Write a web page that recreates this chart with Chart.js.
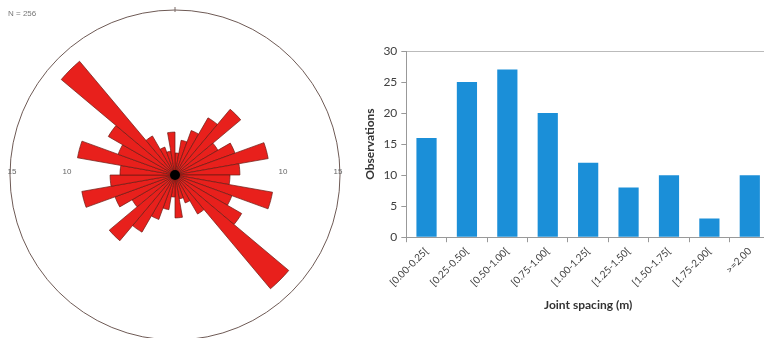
<!DOCTYPE html>
<html lang="en">
  <head>
    <meta charset="UTF-8" />
    <title>Joint orientation and spacing</title>
    <script src="https://cdn.jsdelivr.net/npm/chart.js"></script>
    <style>
      body { margin: 0; width: 764px; height: 338px; overflow: hidden; background: #fff; position: relative; }
      #roseBox { position: absolute; left: 0; top: 0; width: 350px; height: 350px; }
      #barBox { position: absolute; left: 360px; top: 0; width: 420px; height: 338px; }
      #nCount { position: absolute; left: 8px; top: 9px; font: 8px "Liberation Sans", sans-serif; color: #777; }
    </style>
  </head>
  <body>
    <div id="roseBox"><canvas id="rose"></canvas></div>
    <div id="nCount">N = 256</div>
    <div id="barBox"><canvas id="bars"></canvas></div>
    <script>
      // rose diagram: 10 degree bins from 0 to 180, the other half is the same (bidirectional)
      var roseBins = ["0-10", "10-20", "20-30", "30-40", "40-50", "50-60", "60-70", "70-80", "80-90",
        "90-100", "100-110", "110-120", "120-130", "130-140", "140-150", "150-160", "160-170", "170-180"];
      var rosePercent = [2, 3.2, 4.3, 6, 7.8, 4.5, 5.8, 8.6, 5.9, 5.0, 9, 5.5, 7, 13.5, 4.1, 2.7, 2.2, 3.9];
      var roseRings = [5, 10, 15];

      // joint spacing histogram
      var spacingBins = ["[0.00-0.25[", "[0.25-0.50[", "[0.50-1.00[", "[0.75-1.00[", "[1.00-1.25[",
        "[1.25-1.50[", "[1.50-1.75[", "[1.75-2.00[", ">=2.00"];
      var observations = [16, 25, 27, 20, 12, 8, 10, 3, 10];

      Chart.defaults.animation = false;

      var roseLabels = roseBins.concat(roseBins.map(function (b) {
        var p = b.split("-");
        return (+p[0] + 180) + "-" + (+p[1] + 180);
      }));
      var roseData = rosePercent.concat(rosePercent);

      var roseExtras = {
        id: "roseExtras",
        beforeDatasetsDraw: function (chart) {
          var r = chart.scales.r;
          var ctx = chart.ctx;
          ctx.save();
          ctx.fillStyle = "#666";
          ctx.font = "8px 'Liberation Sans', sans-serif";
          ctx.textAlign = "center";
          ctx.textBaseline = "middle";
          roseRings.forEach(function (v) {
            var d = r.getDistanceFromCenterForValue(v);
            ctx.fillText(v, r.xCenter - d + 2, r.yCenter - 3);
            ctx.fillText(v, r.xCenter + d - 2, r.yCenter - 3);
          });
          // north mark
          var top = r.getDistanceFromCenterForValue(15);
          ctx.strokeStyle = "#7a6a66";
          ctx.lineWidth = 1;
          ctx.beginPath();
          ctx.moveTo(r.xCenter, r.yCenter - top - 3);
          ctx.lineTo(r.xCenter, r.yCenter - top + 2);
          ctx.stroke();
          ctx.restore();
        },
        afterDatasetsDraw: function (chart) {
          var r = chart.scales.r;
          var ctx = chart.ctx;
          ctx.save();
          ctx.fillStyle = "#000";
          ctx.beginPath();
          ctx.arc(r.xCenter, r.yCenter, 5, 0, Math.PI * 2);
          ctx.fill();
          ctx.restore();
        }
      };

      new Chart(document.getElementById("rose"), {
        type: "polarArea",
        data: {
          labels: roseLabels,
          datasets: [
            {
              data: roseData,
              backgroundColor: "#e8201c",
              borderColor: "#6b1a12",
              borderWidth: 0.7,
            },
          ],
        },
        options: {
          responsive: true,
          maintainAspectRatio: false,
          layout: { padding: 10 },
          plugins: { legend: { display: false }, tooltip: { enabled: false } },
          scales: {
            r: {
              min: 0,
              max: 15,
              startAngle: 0,
              ticks: { display: false, stepSize: 15 },
              grid: { color: "#6e5a55", lineWidth: 1 },
              angleLines: { display: false },
            },
          },
        },
        plugins: [roseExtras],
      });

      new Chart(document.getElementById("bars"), {
        type: "bar",
        data: {
          labels: spacingBins,
          datasets: [
            {
              label: "Observations",
              data: observations,
              backgroundColor: "#1b8fd8",
              barPercentage: 0.5,
              categoryPercentage: 1,
            },
          ],
        },
        options: {
          responsive: true,
          maintainAspectRatio: false,
          layout: { padding: { left: 1, top: 51, right: 10, bottom: 22 } },
          plugins: { legend: { display: false }, tooltip: { enabled: false } },
          scales: {
            x: {
              grid: { display: true, drawOnChartArea: false, tickLength: 5, color: "#999" },
              border: { color: "#999" },
              ticks: { minRotation: 45, maxRotation: 45, color: "#404040", font: { family: "Lato", size: 10 } },
              title: { display: true, text: "Joint spacing (m)", color: "#333", font: { family: "Lato", size: 12, weight: "bold" }, padding: { top: 6 } },
            },
            y: {
              min: 0,
              max: 30,
              ticks: { stepSize: 5, color: "#404040", font: { family: "Lato", size: 12 }, padding: 4 },
              grid: {
                drawOnChartArea: true,
                tickLength: 5,
                tickColor: "#999",
                color: function (c) { return c.tick && c.tick.value === 30 ? "#bbb" : "rgba(0,0,0,0)"; },
              },
              border: { color: "#999" },
              title: { display: true, text: "Observations", color: "#333", font: { family: "Lato", size: 12, weight: "bold" }, padding: 2 },
            },
          },
        },
      });
    </script>
  </body>
</html>
